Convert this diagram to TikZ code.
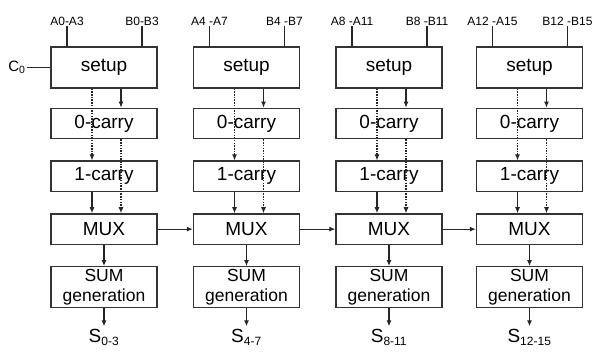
\documentclass[tikz,border=0pt]{standalone}
\usepackage{fontspec}
\setmainfont{Liberation Sans}
\usetikzlibrary{positioning,arrows.meta}

\begin{document}
\begin{tikzpicture}[
    x=1pt, y=1pt,
    node distance=21pt,
    every node/.style={font=\fontsize{19}{21}\selectfont},
    blk/.style={rectangle, draw=black!80, line width=1.3pt,
                minimum width=106pt, minimum height=30.5pt,
                inner sep=1pt, align=center},
    tall/.style={blk, minimum height=41pt},
    lbl/.style={font=\fontsize{12}{14}\selectfont, inner sep=1pt},
    wire/.style={line width=1.1pt, draw=black!85},
    arr/.style={wire, -{Latex[length=6pt,width=5pt]}},
    dotarr/.style={arr, dash pattern=on 1.5pt off 1.2pt}
]
\useasboundingbox (0,0) rectangle (594,351);

% four 4-bit blocks
\foreach \cx/\i/\alab/\blab/\slab in {104/1/A0-A3/B0-B3/{0-3},
        246.5/2/A4 -A7/B4 -B7/{4-7},
        389/3/A8 -A11/B8 -B11/{8-11},
        529.5/4/A12 -A15/B12 -B15/{12-15}}{
  \node[tall]                        (setup\i) at (\cx,283.5) {setup};
  \node[blk, below=19pt of setup\i]  (zero\i)  {0-carry};
  \node[blk, below=of zero\i]        (one\i)   {1-carry};
  \node[blk, below=of one\i]         (mux\i)   {MUX};
  \node[tall, below=of mux\i, font=\fontsize{17.5}{20}\selectfont]
                                     (sum\i)   {SUM\\generation};
  \node[below=20pt of sum\i, inner sep=1pt] (s\i) {S\textsubscript{\fontsize{12}{14}\selectfont\slab}};

  % operand inputs
  \node[lbl, above=20pt of setup\i.north, xshift=-37pt] (a\i) {\alab};
  \node[lbl, above=20pt of setup\i.north, xshift=38pt]  (b\i) {\blab};
  \draw[wire] (a\i) -- (a\i |- setup\i.north);
  \draw[wire] (b\i) -- (b\i |- setup\i.north);

  % carry paths
  \draw[arr]    ([xshift=17pt]setup\i.south) -- ([xshift=17pt]zero\i.north);
  \draw[dotarr] ([xshift=-12pt]setup\i.south) -- ([xshift=-12pt]one\i.north);
  \draw[dotarr] ([xshift=17pt]zero\i.south) -- ([xshift=17pt]mux\i.north);
  \draw[arr]    ([xshift=-12pt]one\i.south) -- ([xshift=-12pt]mux\i.north);
  \draw[arr] (mux\i) -- (sum\i);
  \draw[arr, shorten >=2pt] (sum\i) -- (s\i);
}

\node[lbl, font=\fontsize{15}{17}\selectfont] (cin) at (17,283.5) {C\textsubscript{0}};
\draw[wire] (cin) -- (setup1);

\draw[arr] (mux1) -- (mux2);
\draw[arr] (mux2) -- (mux3);
\draw[arr] (mux3) -- (mux4);
\end{tikzpicture}
\end{document}
